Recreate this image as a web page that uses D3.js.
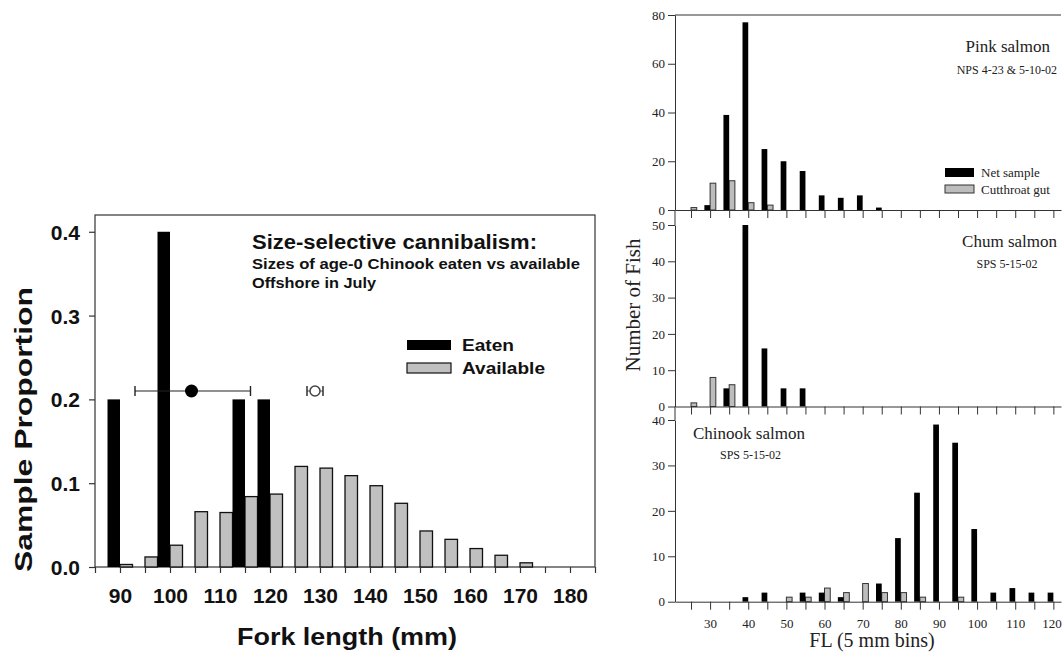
<!doctype html>
<html lang="en">
	<head>
	<meta charset="utf-8">
	<script src="https://cdnjs.cloudflare.com/ajax/libs/d3/7.8.5/d3.min.js"></script>
	<style type="text/css">
		body { margin: 0; background: #fff; }
		svg { display: block; }
		.sans { font-family: 'Liberation Sans', Arial, sans-serif; font-weight: bold; fill: #111; }
		.serif { font-family: 'Liberation Serif', 'Times New Roman', serif; fill: #222; }
	</style>
	</head>
	<body>
	<script>

	// ---- Left chart data: age-0 Chinook eaten vs available ----
	const leftBins = [90, 95, 100, 105, 110, 115, 120, 125, 130, 135, 140, 145, 150, 155, 160, 165, 170, 175, 180];
	const eaten = [0.2, 0, 0.4, 0, 0, 0.2, 0.2, 0, 0, 0, 0, 0, 0, 0, 0, 0, 0, 0, 0];
	const available = [0.003, 0.012, 0.026, 0.066, 0.065, 0.084, 0.087, 0.120, 0.118, 0.109, 0.097, 0.076, 0.043, 0.033, 0.022, 0.014, 0.005, 0, 0];
	const leftXTicks = [90, 100, 110, 120, 130, 140, 150, 160, 170, 180];
	const leftYTicks = [0, 0.1, 0.2, 0.3, 0.4];
	// mean with range bars
	const eatenMean = { x: 104.3, lo: 93, hi: 116.1, y: 0.21 };
	const availMean = { x: 129, lo: 127.4, hi: 130.6, y: 0.21 };

	// ---- Right chart data: 5 mm bins ----
	const rightBins = [25, 30, 35, 40, 45, 50, 55, 60, 65, 70, 75, 80, 85, 90, 95, 100, 105, 110, 115, 120];
	const pinkNet = [0, 2, 39, 77, 25, 20, 16, 6, 5, 6, 1, 0, 0, 0, 0, 0, 0, 0, 0, 0];
	const pinkGut = [1, 11, 12, 3, 2, 0, 0, 0, 0, 0, 0, 0, 0, 0, 0, 0, 0, 0, 0, 0];
	const chumNet = [0, 0, 5, 50, 16, 5, 5, 0, 0, 0, 0, 0, 0, 0, 0, 0, 0, 0, 0, 0];
	const chumGut = [1, 8, 6, 0, 0, 0, 0, 0, 0, 0, 0, 0, 0, 0, 0, 0, 0, 0, 0, 0];
	const chinookNet = [0, 0, 0, 1, 2, 0, 2, 2, 1, 0, 4, 14, 24, 39, 35, 16, 2, 3, 2, 2];
	const chinookGut = [0, 0, 0, 0, 0, 1, 1, 3, 2, 4, 2, 2, 1, 0, 1, 0, 0, 0, 0, 0];
	const rightXLabels = [30, 40, 50, 60, 70, 80, 90, 100, 110, 120];

	const w = 1062, h = 652;
	const svg = d3.select("body").append("svg").attr("width", w).attr("height", h);

	// ================= LEFT CHART =================
	const L = { left: 95, right: 595, top: 215, bottom: 567 };
	const xL = d3.scaleLinear().domain([85, 185]).range([L.left, L.right]);
	const yL = d3.scaleLinear().domain([0, 0.42]).range([L.bottom, L.top]);
	const halfL = 2.5;

	const gL = svg.append("g");

	// frame
	gL.append("rect")
		.attr("x", L.left).attr("y", L.top)
		.attr("width", L.right - L.left).attr("height", L.bottom - L.top)
		.attr("fill", "none").attr("stroke", "#333").attr("stroke-width", 1.2);

	// available (grey, right of bin)
	gL.selectAll("rect.avail")
		.data(leftBins.map((b, i) => [b, available[i]]).filter(d => d[1] > 0))
		.enter().append("rect")
		.attr("class", "avail")
		.attr("x", d => xL(d[0]))
		.attr("y", d => yL(d[1]))
		.attr("width", xL(halfL) - xL(0))
		.attr("height", d => yL(0) - yL(d[1]))
		.attr("fill", "#c0c0c0").attr("stroke", "#111").attr("stroke-width", 1.3);

	// eaten (black, left of bin)
	gL.selectAll("rect.eaten")
		.data(leftBins.map((b, i) => [b, eaten[i]]).filter(d => d[1] > 0))
		.enter().append("rect")
		.attr("class", "eaten")
		.attr("x", d => xL(d[0] - halfL))
		.attr("y", d => yL(d[1]))
		.attr("width", xL(halfL) - xL(0))
		.attr("height", d => yL(0) - yL(d[1]))
		.attr("fill", "#000");

	// axes
	const xAxisL = d3.axisBottom(xL).tickValues(d3.range(85, 186, 5)).tickSize(6).tickFormat(d => leftXTicks.includes(d) ? d : "");
	gL.append("g").attr("transform", "translate(0," + L.bottom + ")").call(xAxisL)
		.call(g => g.select(".domain").remove())
		.call(g => g.selectAll("line").attr("stroke", "#333").attr("stroke-width", 1.2))
		.call(g => g.selectAll("text").attr("class", "sans").attr("font-size", 21).attr("dy", 0).attr("y", 36));

	const yAxisL = d3.axisLeft(yL).tickValues(leftYTicks).tickSize(6).tickFormat(d3.format(".1f"));
	gL.append("g").attr("transform", "translate(" + L.left + ",0)").call(yAxisL)
		.call(g => g.select(".domain").remove())
		.call(g => g.selectAll("line").attr("stroke", "#333").attr("stroke-width", 1.2))
		.call(g => g.selectAll("text").attr("class", "sans").attr("font-size", 21).attr("x", -15).attr("dy", "0.36em"));

	// mean +/- range markers
	[eatenMean, availMean].forEach((m, i) => {
		gL.append("line").attr("x1", xL(m.lo)).attr("x2", xL(m.hi)).attr("y1", yL(m.y)).attr("y2", yL(m.y))
			.attr("stroke", i ? "#777" : "#222").attr("stroke-width", 1.2);
		[m.lo, m.hi].forEach(v => gL.append("line").attr("x1", xL(v)).attr("x2", xL(v))
			.attr("y1", yL(m.y) - 5).attr("y2", yL(m.y) + 5)
			.attr("stroke", "#222").attr("stroke-width", 1.4));
	});
	gL.append("circle").attr("cx", xL(eatenMean.x)).attr("cy", yL(eatenMean.y)).attr("r", 6.5).attr("fill", "#000");
	gL.append("circle").attr("cx", xL(availMean.x)).attr("cy", yL(availMean.y)).attr("r", 5)
		.attr("fill", "#fff").attr("stroke", "#444").attr("stroke-width", 1.5);

	// the source text is drawn wider than Arial, so stretch it to its measured length
	const stretched = (x, y, size, len, str) => gL.append("text").attr("class", "sans")
		.attr("x", x).attr("y", y).attr("font-size", size)
		.attr("textLength", len).attr("lengthAdjust", "spacingAndGlyphs").text(str);

	// titles
	stretched(252, 249, 20, 285, "Size-selective cannibalism:");
	stretched(252, 269, 15, 328, "Sizes of age-0 Chinook eaten vs available");
	stretched(252, 288, 15, 124, "Offshore in July");

	// legend
	gL.append("rect").attr("x", 407).attr("y", 340).attr("width", 44).attr("height", 10).attr("fill", "#000");
	stretched(462, 351, 16, 52, "Eaten");
	gL.append("rect").attr("x", 407).attr("y", 363).attr("width", 44).attr("height", 10)
		.attr("fill", "#c0c0c0").attr("stroke", "#111").attr("stroke-width", 1.2);
	stretched(462, 374, 16, 83, "Available");

	// axis titles
	stretched(237, 645, 24, 220, "Fork length (mm)");
	gL.append("text").attr("class", "sans")
		.attr("transform", "translate(32,572) rotate(-90)").attr("font-size", 24)
		.attr("textLength", 285).attr("lengthAdjust", "spacingAndGlyphs").text("Sample Proportion");

	// ================= RIGHT CHART =================
	const xR = d3.scaleLinear().domain([20.8, 122]).range([675, 1061]);
	const halfR = 1.5;
	const panels = [
		{ net: pinkNet, gut: pinkGut, max: 80, ticks: [0, 20, 40, 60, 80], top: 15, bottom: 210 },
		{ net: chumNet, gut: chumGut, max: 50, ticks: [0, 10, 20, 30, 40, 50], top: 225, bottom: 406.5 },
		{ net: chinookNet, gut: chinookGut, max: 40, ticks: [0, 10, 20, 30, 40], top: 420, bottom: 601.7 }
	];

	const gR = svg.append("g");

	panels.forEach((p, pi) => {
		const y = d3.scaleLinear().domain([0, p.max]).range([p.bottom, p.top]);
		const g = gR.append("g");

		g.selectAll("rect.gut")
			.data(rightBins.map((b, i) => [b, p.gut[i]]).filter(d => d[1] > 0))
			.enter().append("rect")
			.attr("x", d => xR(d[0]))
			.attr("y", d => y(d[1]))
			.attr("width", xR(halfR) - xR(0))
			.attr("height", d => y(0) - y(d[1]))
			.attr("fill", "#bdbdbd").attr("stroke", "#333").attr("stroke-width", 1);

		g.selectAll("rect.net")
			.data(rightBins.map((b, i) => [b, p.net[i]]).filter(d => d[1] > 0))
			.enter().append("rect")
			.attr("x", d => xR(d[0] - halfR))
			.attr("y", d => y(d[1]))
			.attr("width", xR(halfR) - xR(0))
			.attr("height", d => y(0) - y(d[1]))
			.attr("fill", "#000");

		// x axis per panel, labels only on the bottom one
		const xAxis = d3.axisBottom(xR).tickValues(rightBins).tickSize(8).tickSizeOuter(0)
			.tickFormat(d => (pi === 2 && rightXLabels.includes(d)) ? d : "");
		g.append("g").attr("transform", "translate(0," + p.bottom + ")").call(xAxis)
			.call(a => a.select(".domain").attr("stroke", "#333"))
			.call(a => a.selectAll("line").attr("stroke", "#333"))
			.call(a => a.selectAll("text").attr("class", "serif").attr("font-size", 13).attr("dy", 0).attr("y", 26))
			// last label sits at the picture edge: end-anchor it so it stays whole
			.call(a => a.selectAll(".tick").filter(d => d === 120).select("text")
				.attr("text-anchor", "end").attr("x", 8));

		const yAxis = d3.axisLeft(y).tickValues(p.ticks).tickSize(7).tickSizeOuter(0);
		g.append("g").attr("transform", "translate(675,0)").call(yAxis)
			.call(a => a.select(".domain").attr("stroke", "#333"))
			.call(a => a.selectAll("line").attr("stroke", "#333"))
			.call(a => a.selectAll("text").attr("class", "serif").attr("font-size", 13).attr("x", -10));
	});

	// top frame line of the first panel, and gap between panels on the left axis
	gR.append("line").attr("x1", 675).attr("x2", 1061).attr("y1", 15).attr("y2", 15).attr("stroke", "#333");
	gR.append("line").attr("x1", 675).attr("x2", 675).attr("y1", 210).attr("y2", 225).attr("stroke", "#333");
	gR.append("line").attr("x1", 675).attr("x2", 675).attr("y1", 406.5).attr("y2", 420).attr("stroke", "#333");

	// panel labels
	gR.append("text").attr("class", "serif").attr("text-anchor", "end").attr("x", 1050).attr("y", 52).attr("font-size", 17).text("Pink salmon");
	gR.append("text").attr("class", "serif").attr("text-anchor", "end").attr("x", 1057).attr("y", 74).attr("font-size", 12).text("NPS 4-23 & 5-10-02");
	gR.append("text").attr("class", "serif").attr("text-anchor", "end").attr("x", 1057).attr("y", 247).attr("font-size", 17).text("Chum salmon");
	gR.append("text").attr("class", "serif").attr("text-anchor", "middle").attr("x", 1007).attr("y", 268).attr("font-size", 12).text("SPS 5-15-02");
	gR.append("text").attr("class", "serif").attr("x", 693).attr("y", 439).attr("font-size", 17).text("Chinook salmon");
	gR.append("text").attr("class", "serif").attr("x", 720).attr("y", 459).attr("font-size", 12).text("SPS 5-15-02");

	// legend
	gR.append("rect").attr("x", 945).attr("y", 168).attr("width", 29).attr("height", 9).attr("fill", "#000");
	gR.append("text").attr("class", "serif").attr("x", 981).attr("y", 177).attr("font-size", 13).text("Net sample");
	gR.append("rect").attr("x", 945).attr("y", 185).attr("width", 29).attr("height", 8)
		.attr("fill", "#bdbdbd").attr("stroke", "#333").attr("stroke-width", 1);
	gR.append("text").attr("class", "serif").attr("x", 981).attr("y", 194).attr("font-size", 13).text("Cutthroat gut");

	// axis titles
	gR.append("text").attr("class", "serif").attr("text-anchor", "middle")
		.attr("transform", "translate(640,305) rotate(-90)").attr("font-size", 21).text("Number of Fish");
	gR.append("text").attr("class", "serif").attr("text-anchor", "middle")
		.attr("x", 872).attr("y", 647).attr("font-size", 20).text("FL (5 mm bins)");

	</script>
	</body>
</html>
